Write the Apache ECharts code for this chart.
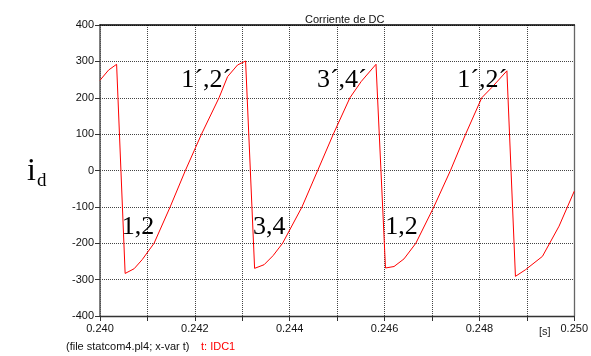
<!DOCTYPE html>
<html>
<head>
<meta charset="utf-8">
<script src="https://cdn.jsdelivr.net/npm/echarts@6/dist/echarts.min.js"></script>
<style>
html,body{margin:0;padding:0;background:#fff;}
#c{width:591px;height:356px;}
</style>
</head>
<body>
<div id="c"></div>
<script>
// Time samples [s]
const times = [
  0.24000, 0.24018, 0.24035, 0.24053, 0.24072, 0.24089, 0.24114, 0.24148, 0.24180, 0.24214, 0.24251, 0.24269, 0.24290, 0.24307,
  0.24326, 0.24346, 0.24365, 0.24385, 0.24426, 0.24459, 0.24492, 0.24527, 0.24551, 0.24582,
  0.24602, 0.24620, 0.24641, 0.24666, 0.24704, 0.24739, 0.24771, 0.24805, 0.24826, 0.24858,
  0.24876, 0.24897, 0.24933, 0.24968, 0.25000];
// DC current IDC1 [A]
const idc = [
  248, 276, 292, -283, -270, -245, -200, -100, 0, 100, 200, 258, 290, 301,
  -269, -259, -234, -200, -100, 0, 100, 200, 245, 292,
  -268, -264, -243, -200, -100, 0, 100, 200, 228, 274,
  -291, -273, -236, -153, -57];
// Annotations (text, data position)
const annotText = ['1\u00b4,2\u00b4', '3\u00b4,4\u00b4', '1\u00b4,2\u00b4', '1,2', '3,4', '1,2'];
const annotT = [0.24224, 0.24510, 0.24806, 0.24080, 0.24357, 0.24636];
const annotV = [249, 249, 249, -156, -156, -156];
// Axis ticks
const yTicks = [-400, -300, -200, -100, 0, 100, 200, 300, 400];
const xMin = 0.240, xMax = 0.250, xStep = 0.001;

const chart = echarts.init(document.getElementById('c'), null, {renderer: 'canvas'});
const lineData = times.map((t, i) => [t, idc[i]]);
const annotData = annotText.map((s, i) => ({name: s, value: [annotT[i], annotV[i]]}));
const gridDot = {color: '#444', type: [1, 1], width: 1};
const labFont = {fontFamily: 'Liberation Sans, Arial, sans-serif', fontSize: 11, color: '#111'};

chart.setOption({
  animation: false,
  backgroundColor: '#fff',
  title: {
    text: 'Corriente de DC', left: 300, top: 9,
    textStyle: {fontFamily: 'Liberation Sans, Arial, sans-serif', fontSize: 11, fontWeight: 'normal', color: '#111'}
  },
  grid: {left: 100, right: 11, top: 25, bottom: 40},
  xAxis: [{
    type: 'value', min: xMin, max: xMax, interval: xStep,
    axisLine: {onZero: false, lineStyle: {color: '#333', width: 1.3}},
    axisTick: {show: true, length: 5, lineStyle: {color: '#333'}},
    splitLine: {show: true, lineStyle: gridDot},
    axisLabel: Object.assign({
      margin: 7, showMaxLabel: true, showMinLabel: true,
      formatter: v => { const k = Math.round(v * 1000); return k % 2 === 0 ? (k / 1000).toFixed(3) : ''; }
    }, labFont)
  }, {
    type: 'value', position: 'top', min: xMin, max: xMax,
    axisLine: {show: true, onZero: false, lineStyle: {color: '#000', width: 1.5}},
    axisTick: {show: false}, axisLabel: {show: false}, splitLine: {show: false}
  }],
  yAxis: [{
    type: 'value', min: yTicks[0], max: yTicks[yTicks.length - 1], interval: 100,
    axisLine: {show: true, onZero: false, lineStyle: {color: '#555', width: 1.5}},
    axisTick: {show: true, length: 5, lineStyle: {color: '#333'}},
    splitLine: {show: true, lineStyle: gridDot},
    axisLabel: Object.assign({margin: 6}, labFont)
  }, {
    type: 'value', position: 'right', min: yTicks[0], max: yTicks[yTicks.length - 1],
    axisLine: {show: true, onZero: false, lineStyle: {color: '#666', width: 1.3}},
    axisTick: {show: false}, axisLabel: {show: false}, splitLine: {show: false}
  }],
  series: [{
    type: 'line', data: lineData, symbol: 'none', smooth: false,
    lineStyle: {color: '#ff0000', width: 1}, z: 3
  }, {
    type: 'scatter', data: annotData, symbolSize: 0, z: 4,
    itemStyle: {opacity: 1},
    label: {
      show: true, position: 'inside', formatter: p => p.name, opacity: 1,
      fontFamily: 'Liberation Serif, Times New Roman, serif', fontSize: 26, color: '#000',
      textBorderWidth: 0
    }
  }],
  graphic: [
    {type: 'text', left: 27, top: 156, style: {text: 'i', font: '32px "Liberation Serif", serif', fill: '#000'}},
    {type: 'text', left: 37, top: 172, style: {text: 'd', font: '19px "Liberation Serif", serif', fill: '#000'}},
    {type: 'text', left: 539, top: 326, style: {text: '[s]', font: '11px "Liberation Sans", Arial, sans-serif', fill: '#222'}},
    {type: 'text', left: 66, top: 341, style: {text: '(file statcom4.pl4; x-var t)', font: '11px "Liberation Sans", Arial, sans-serif', fill: '#111'}},
    {type: 'text', left: 201, top: 341, style: {text: 't: IDC1', font: '11px "Liberation Sans", Arial, sans-serif', fill: '#ff0000'}}
  ]
});
</script>
</body>
</html>
